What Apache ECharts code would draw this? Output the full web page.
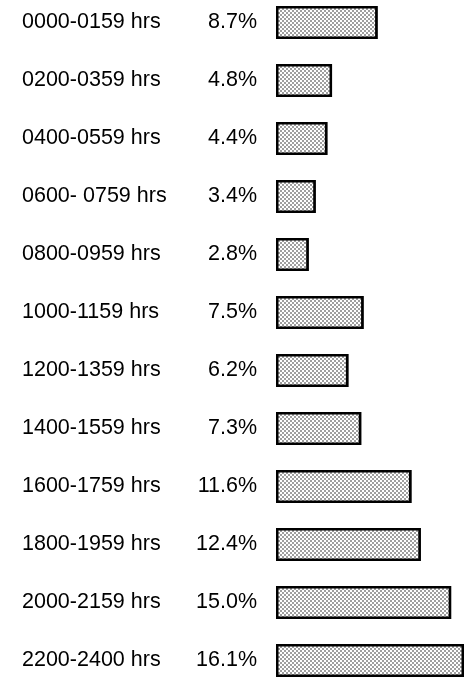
<!DOCTYPE html>
<html>
<head>
<meta charset="utf-8">
<script src="https://cdn.jsdelivr.net/npm/echarts@6/dist/echarts.min.js"></script>
<style>
html,body{margin:0;padding:0;background:#fff;}
#chart{width:466px;height:678px;}
</style>
</head>
<body>
<div id="chart"></div>
<script>
const categories = ['0000-0159 hrs','0200-0359 hrs','0400-0559 hrs','0600- 0759 hrs','0800-0959 hrs','1000-1159 hrs','1200-1359 hrs','1400-1559 hrs','1600-1759 hrs','1800-1959 hrs','2000-2159 hrs','2200-2400 hrs'];
const values = [8.7, 4.8, 4.4, 3.4, 2.8, 7.5, 6.2, 7.3, 11.6, 12.4, 15.0, 16.1];

const FONT = '"Liberation Sans", Arial, Helvetica, sans-serif';
const FS = 21.5;
const chart = echarts.init(document.getElementById('chart'), null, {renderer:'canvas'});
chart.setOption({
  backgroundColor: '#fff',
  animation: false,
  grid: {left: 276, width: 188, top: -6.5, height: 696, containLabel: false, outerBoundsMode: 'none'},
  xAxis: {type: 'value', min: 0, max: 'dataMax', show: false},
  yAxis: {
    type: 'category', data: categories, inverse: true,
    axisLine: {show: false}, axisTick: {show: false}, splitLine: {show: false},
    axisLabel: {align: 'left', margin: 254, fontSize: FS, fontFamily: FONT, color: '#000', padding: [5,0,0,0]}
  },
  series: [{
    type: 'bar', data: values, barWidth: 33,
    itemStyle: {
      color: '#fff', borderColor: '#000', borderWidth: 2.5,
      decal: {symbol: 'circle', symbolSize: 0.75, color: '#111', backgroundColor: '#fff',
              dashArrayX: [[2,2],[0,2,2,0]], dashArrayY: [2,0], rotation: 0}
    },
    label: {show: true, position: 'left', distance: 19, fontSize: FS, fontFamily: FONT, color: '#000',
            padding: [5,0,0,0],
            formatter: p => p.value.toFixed(1) + '%'}
  }]
});
</script>
</body>
</html>
